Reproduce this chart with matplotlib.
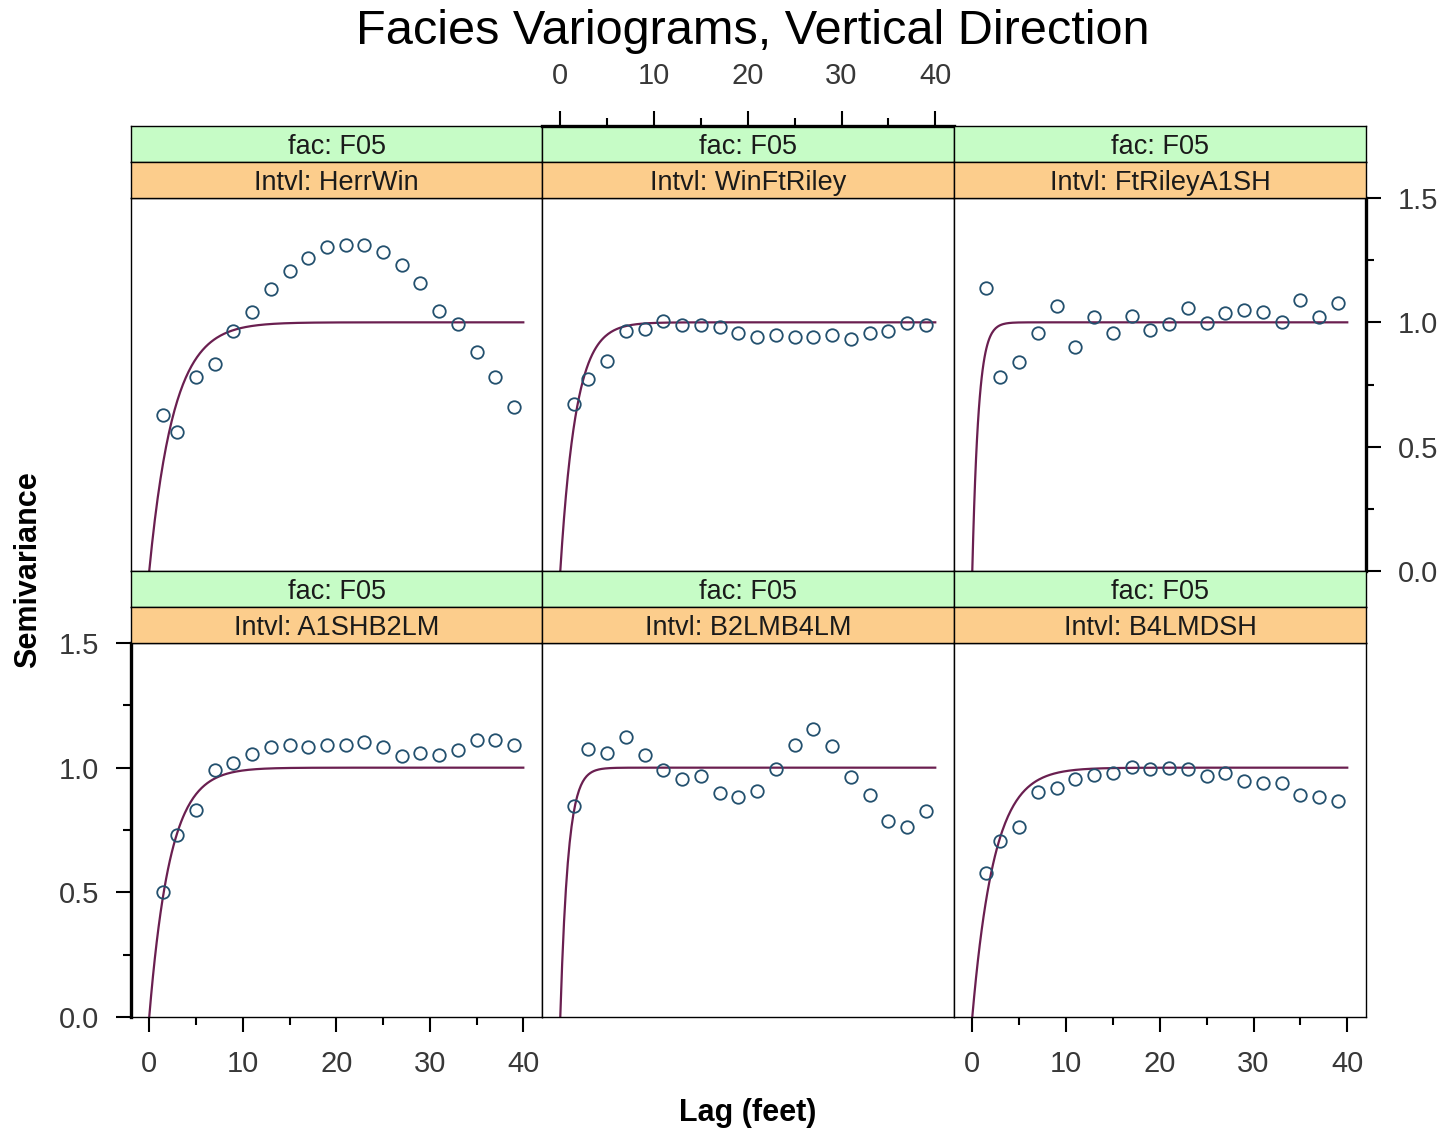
import matplotlib
matplotlib.use('Agg')
import matplotlib.pyplot as plt
import numpy as np
from matplotlib.ticker import MultipleLocator

plt.rcParams['font.family'] = ['Liberation Sans', 'DejaVu Sans']

# ---------------- data ----------------
facies = ['F05', 'F05', 'F05', 'F05', 'F05', 'F05']
intervals = ['HerrWin', 'WinFtRiley', 'FtRileyA1SH', 'A1SHB2LM', 'B2LMB4LM', 'B4LMDSH']
lags = [1.5, 3, 5, 7, 9, 11, 13, 15, 17, 19, 21, 23, 25, 27, 29, 31, 33, 35, 37, 39]

gamma_herrwin = [0.627, 0.558, 0.781, 0.831, 0.965, 1.040, 1.133, 1.205, 1.259, 1.304,
                 1.311, 1.311, 1.281, 1.230, 1.157, 1.045, 0.992, 0.882, 0.780, 0.659]
gamma_winftriley = [0.670, 0.772, 0.844, 0.965, 0.972, 1.005, 0.989, 0.989, 0.980, 0.958,
                    0.942, 0.949, 0.940, 0.940, 0.949, 0.932, 0.958, 0.965, 0.998, 0.989]
gamma_ftrileya1sh = [1.137, 0.780, 0.842, 0.958, 1.067, 0.899, 1.021, 0.958, 1.027, 0.969,
                     0.992, 1.057, 0.998, 1.039, 1.049, 1.043, 1.002, 1.090, 1.021, 1.079]
gamma_a1shb2lm = [0.501, 0.730, 0.830, 0.989, 1.020, 1.053, 1.084, 1.090, 1.084, 1.092,
                  1.092, 1.103, 1.084, 1.047, 1.059, 1.052, 1.072, 1.110, 1.110, 1.092]
gamma_b2lmb4lm = [0.846, 1.074, 1.060, 1.125, 1.049, 0.990, 0.956, 0.966, 0.899, 0.883,
                  0.907, 0.996, 1.092, 1.154, 1.087, 0.964, 0.889, 0.785, 0.763, 0.825]
gamma_b4lmdsh = [0.578, 0.706, 0.763, 0.902, 0.920, 0.956, 0.972, 0.980, 1.001, 0.996,
                 0.998, 0.996, 0.966, 0.980, 0.945, 0.940, 0.937, 0.891, 0.883, 0.867]
gammas = [gamma_herrwin, gamma_winftriley, gamma_ftrileya1sh,
          gamma_a1shb2lm, gamma_b2lmb4lm, gamma_b4lmdsh]

# fitted exponential variogram models (nugget, sill, practical range)
model_nugget = [0.0, 0.0, 0.0, 0.0, 0.0, 0.0]
model_sill = [1.0, 1.0, 1.0, 1.0, 1.0, 1.0]
model_range = [7.8, 5.0, 2.0, 6.7, 2.5, 7.0]
model_maxlag = 40

# ---------------- layout ----------------
W, H = 1448, 1133
fig = plt.figure(figsize=(W / 100, H / 100), dpi=100)
fig.patch.set_facecolor('white')

def rect(x0, y0, x1, y1):
    return [x0 / W, 1 - y1 / H, (x1 - x0) / W, (y1 - y0) / H]

col_edges = [131, 542, 954, 1366]
row_panels = [(198, 571), (643, 1017)]
STRIP_H = 36
XLIM = (-1.95, 42.0)
YLIM = (0.0, 1.5)

pt_color = '#23506e'
line_color = '#6a1f50'
green = '#c6fcc6'
orange = '#fccd8c'
tick_color = '#383838'
LAB = 21

def style_ticks(ax, which_axis, pad=12):
    ax.tick_params(axis=which_axis, which='major', direction='out', length=11,
                   width=1.5, labelsize=LAB, labelcolor=tick_color, pad=pad)
    ax.tick_params(axis=which_axis, which='minor', direction='out', length=6,
                   width=1.5)

for i in range(6):
    r, c = divmod(i, 3)
    x0, x1 = col_edges[c], col_edges[c + 1]
    y0, y1 = row_panels[r]
    ax = fig.add_axes(rect(x0, y0, x1, y1))
    ax.set_xlim(*XLIM)
    ax.set_ylim(*YLIM)
    for s in ax.spines.values():
        s.set_linewidth(1.0)
        s.set_color('black')

    h = np.linspace(0, model_maxlag, 400)
    g = model_nugget[i] + (model_sill[i] - model_nugget[i]) * (1 - np.exp(-3 * h / model_range[i]))
    ax.plot(h, g, color=line_color, lw=1.6, zorder=2)
    ax.plot(lags, gammas[i], linestyle='none', marker='o', ms=9, mfc='none',
            mec=pt_color, mew=1.3, zorder=3, clip_on=False)

    ax.xaxis.set_major_locator(MultipleLocator(10))
    ax.xaxis.set_minor_locator(MultipleLocator(5))
    ax.yaxis.set_major_locator(MultipleLocator(0.5))
    ax.yaxis.set_minor_locator(MultipleLocator(0.25))
    ax.yaxis.set_major_formatter(matplotlib.ticker.FormatStrFormatter('%.1f'))

    ax.tick_params(axis='both', which='both', bottom=False, top=False, left=False,
                   right=False, labelbottom=False, labeltop=False, labelleft=False,
                   labelright=False)

    if r == 1 and c in (0, 2):
        style_ticks(ax, 'x', pad=13)
        ax.tick_params(axis='x', which='both', bottom=True, labelbottom=True)
    if r == 1 and c == 0:
        style_ticks(ax, 'y')
        ax.tick_params(axis='y', which='both', left=True, labelleft=True)
        ax.spines['left'].set_linewidth(2.4)
    if r == 0 and c == 2:
        style_ticks(ax, 'y')
        ax.tick_params(axis='y', which='both', right=True, labelright=True)
        ax.spines['right'].set_linewidth(2.4)

    # strips
    for k, (txt, col) in enumerate([('fac: ' + facies[i], green),
                                    ('Intvl: ' + intervals[i], orange)]):
        sy0 = y0 - 2 * STRIP_H + k * STRIP_H
        sax = fig.add_axes(rect(x0, sy0, x1, sy0 + STRIP_H))
        sax.set_facecolor(col)
        sax.set_xlim(*XLIM)
        sax.set_ylim(0, 1)
        for s in sax.spines.values():
            s.set_linewidth(1.0)
        sax.text(0.5, 0.42, txt, transform=sax.transAxes, ha='center', va='center',
                 fontsize=19.5, color='#1a1a1a')
        sax.tick_params(axis='both', which='both', bottom=False, top=False, left=False,
                        right=False, labelbottom=False, labeltop=False, labelleft=False,
                        labelright=False)
        if r == 0 and c == 1 and k == 0:
            sax.xaxis.set_major_locator(MultipleLocator(10))
            sax.xaxis.set_minor_locator(MultipleLocator(5))
            style_ticks(sax, 'x', pad=15)
            sax.tick_params(axis='x', which='both', top=True, labeltop=True)
            sax.spines['top'].set_linewidth(2.4)

fig.text(753 / W, 1 - 32 / H, 'Facies Variograms, Vertical Direction', ha='center',
         va='center', fontsize=35, color='black')
fig.text(28 / W, 1 - 570 / H, 'Semivariance', ha='center', va='center', rotation=90,
         fontsize=22, fontweight='bold', color='black')
fig.text(748 / W, 1 - 1113 / H, 'Lag (feet)', ha='center', va='center',
         fontsize=22, fontweight='bold', color='black')

fig.savefig('out.png', dpi=100, facecolor='white')
